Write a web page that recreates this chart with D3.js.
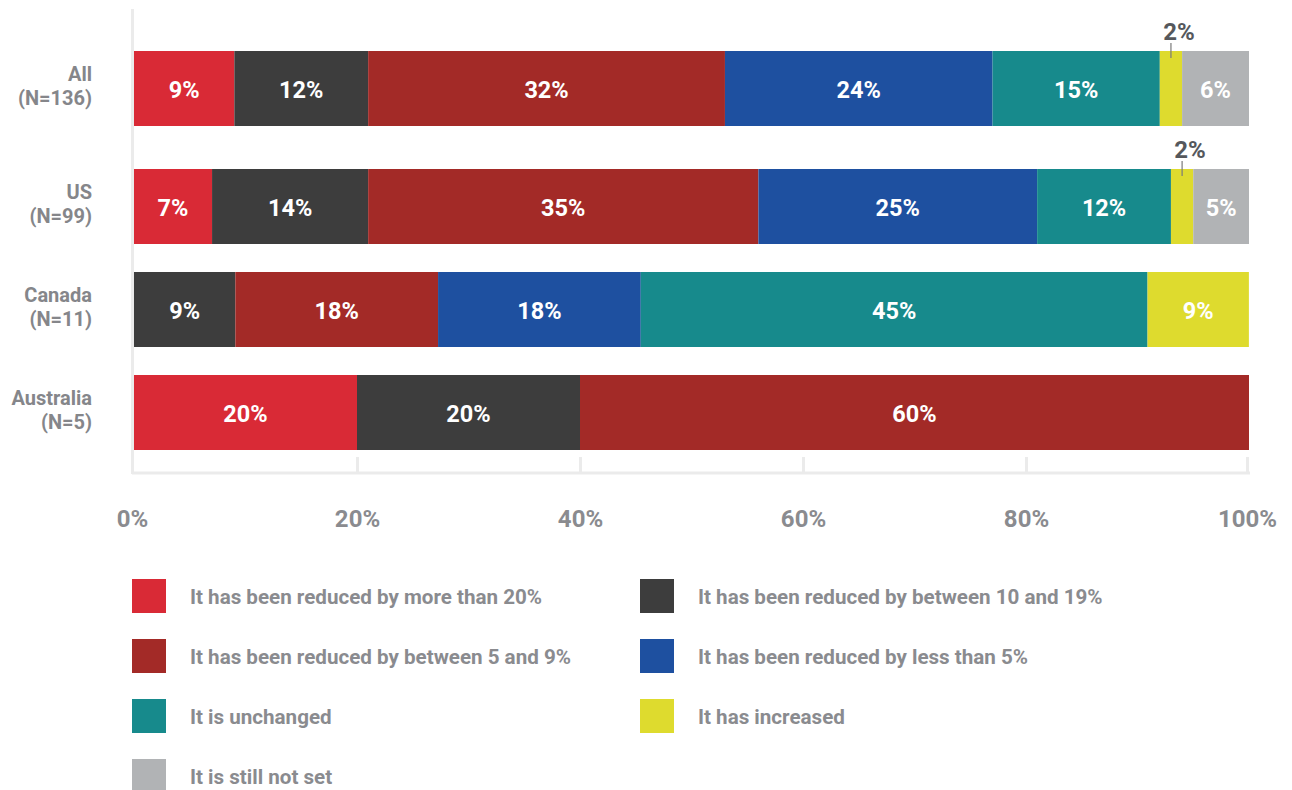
<!DOCTYPE html>
<html>
<head>
<meta charset="utf-8">
<script src="https://cdn.jsdelivr.net/npm/d3@7"></script>
<style>
  html, body { margin: 0; padding: 0; background: #fff; }
  svg { display: block; font-family: Roboto, "Noto Sans", sans-serif; font-weight: 700; }
</style>
</head>
<body>
<svg id="chart" width="1292" height="790"></svg>
<script>
// Row categories (two-line labels)
const categories = ["All", "US", "Canada", "Australia"];
const sampleSizes = ["(N=136)", "(N=99)", "(N=11)", "(N=5)"];

// Response options, in stacking order
const seriesNames = [
  "It has been reduced by more than 20%",
  "It has been reduced by between 10 and 19%",
  "It has been reduced by between 5 and 9%",
  "It has been reduced by less than 5%",
  "It is unchanged",
  "It has increased",
  "It is still not set"
];
const seriesColors = ["#d92a36", "#3d3d3d", "#a32a27", "#1e50a0", "#178a8c", "#dedb2e", "#b1b3b5"];

// Share of respondents (%) per row, one array per series
const reducedOver20   = [9, 7, 0, 20];
const reduced10to19   = [12, 14, 9.09, 20];
const reduced5to9     = [32, 35, 18.18, 60];
const reducedUnder5   = [24, 25, 18.18, 0];
const unchanged       = [15, 12, 45.45, 0];
const increased       = [2, 2, 9.09, 0];
const notSet          = [6, 5, 0, 0];
const seriesValues = [reducedOver20, reduced10to19, reduced5to9, reducedUnder5, unchanged, increased, notSet];

const tickValues = [0, 20, 40, 60, 80, 100];

const svg = d3.select("#chart");

// Horizontal value scale
const x = d3.scaleLinear().domain([0, 100]).range([134, 1249]);

// Row band scale; rows that carry a small-segment callout get extra headroom
const y = d3.scaleBand().domain(categories).range([36, 420]).paddingInner(28 / 103);
const calloutThreshold = 3;
const calloutGap = 15;
const hasCallout = categories.map((c, i) => seriesValues.some(s => s[i] > 0 && s[i] < calloutThreshold));
const rowTop = (c) => {
  const i = categories.indexOf(c);
  let extra = 0;
  for (let k = 0; k <= i; k++) if (hasCallout[k]) extra += calloutGap;
  return y(c) + extra;
};

// Stack the data
const rows = categories.map((c, i) => {
  const o = { cat: c };
  seriesNames.forEach((n, j) => { o[n] = seriesValues[j][i]; });
  return o;
});
const stacked = d3.stack().keys(seriesNames)(rows);

// Axis frame
const axisColor = "#ebebeb";
const plotBottom = 473;
svg.append("line")
  .attr("x1", 132.5).attr("x2", 132.5).attr("y1", 9).attr("y2", plotBottom + 1)
  .attr("stroke", axisColor).attr("stroke-width", 3);

const xAxis = d3.axisBottom(x)
  .tickValues(tickValues)
  .tickSize(-16)
  .tickSizeOuter(0)
  .tickPadding(37)
  .tickFormat(d => d + "%");

const gx = svg.append("g").attr("transform", `translate(0,${plotBottom})`).call(xAxis);
gx.select(".domain").attr("stroke", axisColor).attr("stroke-width", 3)
  .attr("d", `M132,0H1250`);
gx.selectAll(".tick line").attr("stroke", axisColor).attr("stroke-width", 3);
gx.selectAll(".tick").filter(d => d === 0).select("line").remove();
gx.selectAll(".tick").filter(d => d === 100).attr("transform", `translate(${x(100) - 1.5},0)`);
gx.selectAll(".tick text")
  .attr("fill", "#8a8b8f")
  .style("font-family", "Roboto, sans-serif")
  .style("font-weight", 700)
  .style("font-size", "24px");
gx.selectAll(".tick").filter(d => d === 0).select("text").attr("dx", -2);

// Bars
const layers = svg.append("g").selectAll("g")
  .data(stacked)
  .join("g")
  .attr("fill", (d, i) => seriesColors[i]);

layers.selectAll("rect")
  .data(d => d.map(v => ({ key: d.key, v })))
  .join("rect")
  .attr("x", d => x(d.v[0]))
  .attr("y", d => rowTop(d.v.data.cat))
  .attr("width", d => Math.max(0, x(d.v[1]) - x(d.v[0])))
  .attr("height", y.bandwidth());

// Value labels
const fmt = v => Math.round(v) + "%";
const segs = [];
stacked.forEach(layer => {
  layer.forEach(v => {
    const val = v[1] - v[0];
    if (val > 0) segs.push({ cat: v.data.cat, x0: v[0], x1: v[1], val });
  });
});

svg.append("g").selectAll("text")
  .data(segs.filter(s => s.val >= calloutThreshold))
  .join("text")
  .attr("x", d => x((d.x0 + d.x1) / 2))
  .attr("y", d => rowTop(d.cat) + y.bandwidth() / 2)
  .attr("dy", "0.4em")
  .attr("text-anchor", "middle")
  .attr("fill", "#fff")
  .style("font-size", "23.5px")
  .text(d => fmt(d.val));

// Callouts for narrow segments
const callouts = svg.append("g").selectAll("g")
  .data(segs.filter(s => s.val < calloutThreshold))
  .join("g");
callouts.append("line")
  .attr("x1", d => x((d.x0 + d.x1) / 2))
  .attr("x2", d => x((d.x0 + d.x1) / 2))
  .attr("y1", d => rowTop(d.cat) - 8)
  .attr("y2", d => rowTop(d.cat) + 7)
  .attr("stroke", "#7a7a7a")
  .attr("stroke-width", 1.2);
callouts.append("text")
  .attr("x", d => x((d.x0 + d.x1) / 2) + 8)
  .attr("y", d => rowTop(d.cat) - 11)
  .attr("text-anchor", "middle")
  .attr("fill", "#55585c")
  .style("font-size", "24px")
  .text(d => fmt(d.val));

// Row labels
const rowLabels = svg.append("g").selectAll("text")
  .data(categories)
  .join("text")
  .attr("text-anchor", "end")
  .attr("fill", "#85868a")
  .style("font-size", "20px")
  .attr("transform", c => `translate(92,${rowTop(c) + y.bandwidth() / 2})`);
rowLabels.append("tspan").attr("x", 0).attr("y", -8).text(c => c);
rowLabels.append("tspan").attr("x", 0).attr("y", 16).text((c, i) => sampleSizes[i]);

// Legend: two columns
const legendCol = d3.scaleOrdinal().domain([0, 1]).range([132, 640]);
const legendRow = d3.scaleLinear().domain([0, 1]).range([579, 639]);
const legend = svg.append("g").selectAll("g")
  .data(seriesNames)
  .join("g")
  .attr("transform", (d, i) => `translate(${legendCol(i % 2)},${legendRow(Math.floor(i / 2))})`);
legend.append("rect")
  .attr("width", 34).attr("height", 34)
  .attr("fill", (d, i) => seriesColors[i]);
legend.append("text")
  .attr("x", 58).attr("y", 25)
  .attr("fill", "#8a8b8f")
  .style("font-size", "20.6px")
  .text(d => d);
</script>
</body>
</html>
